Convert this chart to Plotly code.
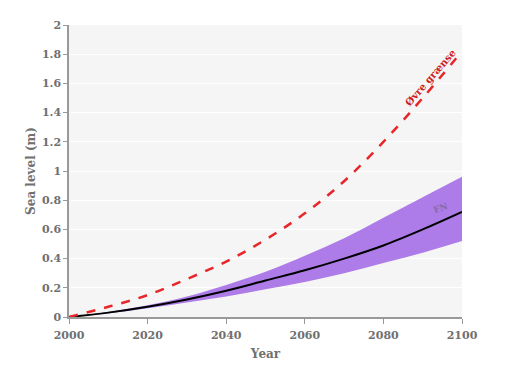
import plotly.graph_objects as go

years = [2000, 2010, 2020, 2030, 2040, 2050, 2060, 2070, 2080, 2090, 2100]
upper_bound = [0, 0.07, 0.15, 0.26, 0.38, 0.53, 0.71, 0.93, 1.20, 1.50, 1.82]
fn_mid = [0, 0.03, 0.07, 0.12, 0.18, 0.25, 0.32, 0.40, 0.49, 0.60, 0.72]
fn_high = [0, 0.035, 0.08, 0.14, 0.22, 0.31, 0.42, 0.54, 0.68, 0.82, 0.96]
fn_low = [0, 0.025, 0.06, 0.10, 0.14, 0.19, 0.24, 0.30, 0.37, 0.44, 0.52]

font_fam = "DejaVu Serif"
gray = "#707070"

fig = go.Figure()
fig.add_trace(go.Scatter(x=years, y=fn_low, mode="lines", line=dict(width=0, shape="spline"),
                         showlegend=False, hoverinfo="skip"))
fig.add_trace(go.Scatter(x=years, y=fn_high, mode="lines", line=dict(width=0, shape="spline"),
                         fill="tonexty", fillcolor="#ad7ce8", showlegend=False))
fig.add_trace(go.Scatter(x=years, y=fn_mid, mode="lines", line=dict(color="black", width=2, shape="spline"),
                         showlegend=False))
fig.add_trace(go.Scatter(x=years, y=upper_bound, mode="lines",
                         line=dict(color="#e8262a", width=2.5, dash="dash", shape="spline"),
                         showlegend=False))

fig.add_annotation(x=2092, y=1.64, text="<b>Øvre grænse</b>", showarrow=False, textangle=-49,
                   font=dict(family=font_fam, size=10, color="#cc1f24"))
fig.add_annotation(x=2094.5, y=0.75, text="<b>FN</b>", showarrow=False, textangle=-20,
                   font=dict(family=font_fam, size=9, color="#8a6aa6"))

fig.update_layout(
    width=508, height=375,
    margin=dict(l=61, r=54, t=17, b=66),
    paper_bgcolor="white", plot_bgcolor="#f5f5f5",
    font=dict(family=font_fam, size=11, color=gray),
)
fig.update_xaxes(range=[2000, 2100], tickvals=[2000, 2020, 2040, 2060, 2080, 2100],
                 ticktext=["<b>%d</b>" % v for v in [2000, 2020, 2040, 2060, 2080, 2100]],
                 showgrid=False, zeroline=False, showline=True, linecolor="#999999", linewidth=1.5,
                 ticks="outside", ticklen=5, tickcolor="#999999", ticklabelstandoff=2,
                 title=dict(text="<b>Year</b>", font=dict(size=12, color=gray), standoff=9))
yt = [0, 0.2, 0.4, 0.6, 0.8, 1, 1.2, 1.4, 1.6, 1.8, 2]
fig.update_yaxes(range=[0, 2], tickvals=yt, ticktext=["<b>%g</b>" % v for v in yt],
                 showgrid=True, gridcolor="white", gridwidth=1, zeroline=False,
                 showline=True, linecolor="#999999", linewidth=1.5,
                 ticks="outside", ticklen=4, tickcolor="#999999",
                 title=dict(text="<b>Sea level (m)</b>", font=dict(size=12, color=gray), standoff=4))

fig.write_html("out.html")
